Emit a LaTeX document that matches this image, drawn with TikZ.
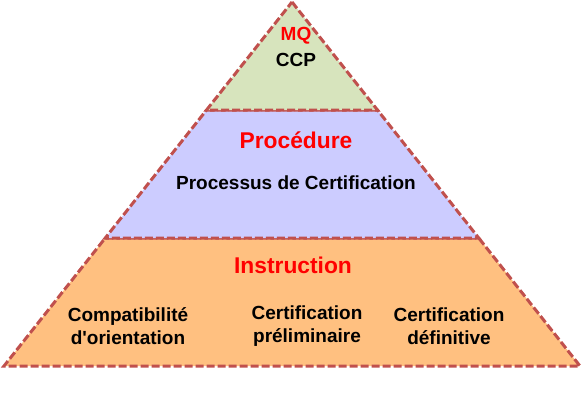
\documentclass[tikz,border=0pt]{standalone}
\usepackage{fontspec}
\setmainfont{Liberation Sans}
\usepackage{xcolor}
\usetikzlibrary{positioning,calc}

\definecolor{bandgreen}{HTML}{D7E4BD}
\definecolor{bandblue}{HTML}{CCCCFF}
\definecolor{bandorange}{HTML}{FFC080}
\definecolor{edgered}{HTML}{C0504D}

\begin{document}
\begin{tikzpicture}[
    x=1pt, y=-1pt,
    band/.style={draw=edgered, line width=3pt, dash pattern=on 8pt off 3pt, line join=miter},
    title/.style={font=\fontsize{22.8}{27}\selectfont\bfseries, text=red},
    label/.style={font=\fontsize{19}{23}\selectfont\bfseries, align=center, text=black}
]
    \useasboundingbox (0,0) rectangle (583,414);

    % Corners of the pyramid
    \coordinate (apex) at (292,2);
    \coordinate (bl) at (4,366);
    \coordinate (br) at (580,366);

    % Band limits
    \coordinate (l1) at ($(apex)!0.2967!(bl)$);
    \coordinate (r1) at ($(apex)!0.2967!(br)$);
    \coordinate (l2) at ($(apex)!0.6484!(bl)$);
    \coordinate (r2) at ($(apex)!0.6484!(br)$);

    % Bands
    \draw[band, fill=bandorange] (l2) -- (r2) -- (br) -- (bl) -- cycle;
    \draw[band, fill=bandblue] (l1) -- (r1) -- (r2) -- (l2) -- cycle;
    \draw[band, fill=bandgreen] (apex) -- (r1) -- (l1) -- cycle;

    % Top
    \node[title, font=\fontsize{19}{23}\selectfont\bfseries] (mq) at (296,36) {MQ};
    \node[label] (ccp) at (296,60) {CCP};

    % Middle
    \node[title] (proc) at (296,140) {Procédure};
    \node[label] (processus) at (296,183) {Processus de Certification};

    % Bottom
    \node[title] (instr) at (293,265) {Instruction};
    \node[label] (compat) at (128,326) {Compatibilité\\d\textquotesingle orientation};
    \node[label] (prelim) at (307,326) {Certification\\préliminaire};
    \node[label] (defin) at (449,326) {Certification\\définitive};
\end{tikzpicture}
\end{document}
